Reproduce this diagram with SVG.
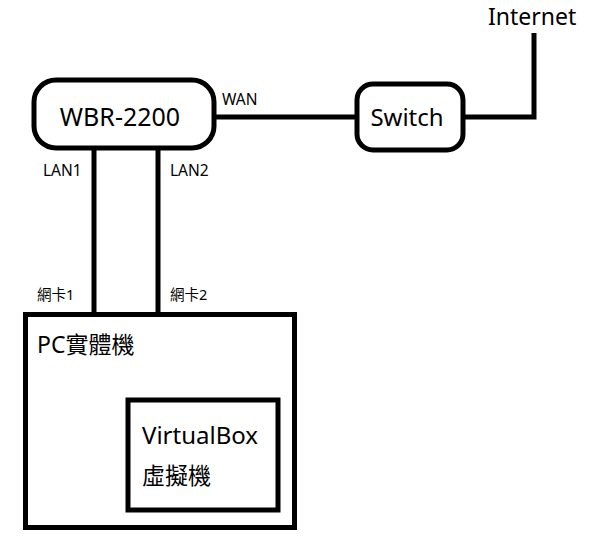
<svg xmlns="http://www.w3.org/2000/svg" width="593" height="549" viewBox="0 0 593 549">
<style>
.box{fill:#fff;stroke:#000;stroke-width:5}
.ln{fill:none;stroke:#000;stroke-width:5}
text{font-family:"Noto Sans","Noto Sans CJK TC",sans-serif;fill:#000}
.s{font-size:15.5px}
.c{font-size:14.5px}
</style>
<rect width="593" height="549" fill="#fff"/>
<g id="connectors">
<line class="ln" x1="214" y1="117" x2="357" y2="117"/>
<polyline class="ln" points="463,117 534,117 534,33"/>
<line class="ln" x1="94" y1="148" x2="94" y2="314"/>
<line class="ln" x1="158" y1="148" x2="158" y2="314"/>
<text class="s" x="222" y="105">WAN</text>
<text class="s" x="43" y="176">LAN1</text>
<text class="s" x="170" y="176">LAN2</text>
<text class="c" x="37" y="300">網卡1</text>
<text class="c" x="170" y="300">網卡2</text>
</g>
<g id="internet">
<text x="488" y="24.5" font-size="23">Internet</text>
</g>
<g id="wbr">
<rect class="box" x="34" y="80" width="180" height="68" rx="22"/>
<text x="120" y="126" font-size="25" text-anchor="middle">WBR-2200</text>
</g>
<g id="switch">
<rect class="box" x="357" y="84" width="106" height="66" rx="16"/>
<text x="407" y="126" font-size="24" text-anchor="middle">Switch</text>
</g>
<g id="pc">
<rect class="box" x="25.5" y="314.5" width="269" height="213"/>
<text x="37" y="353" font-size="23">PC實體機</text>
</g>
<g id="vbox">
<rect class="box" x="128" y="400" width="150" height="110"/>
<text x="142" y="444" font-size="24">VirtualBox</text>
<text x="142" y="484" font-size="23">虛擬機</text>
</g>
</svg>
